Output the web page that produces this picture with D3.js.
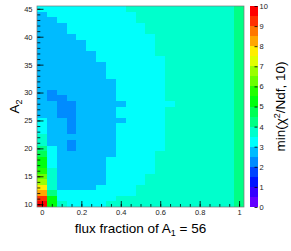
<!DOCTYPE html>
<html>
<head>
<meta charset="utf-8">
<script src="https://cdn.jsdelivr.net/npm/d3@7"></script>
<style>
  body { margin: 0; background: #fff; }
  text { font-family: "Liberation Sans", Arial, Helvetica, sans-serif; }
</style>
</head>
<body>
<script>
// bin centres
var xBins = [0, 0.05, 0.1, 0.15, 0.2, 0.25, 0.3, 0.35, 0.4, 0.45, 0.5,
             0.55, 0.6, 0.65, 0.7, 0.75, 0.8, 0.85, 0.9, 0.95, 1];
var yBins = [45, 44, 43, 42, 41, 40, 39, 38, 37, 36, 35, 34, 33, 32, 31, 30, 29, 28,
             27, 26, 25, 24, 23, 22, 21, 20, 19, 18, 17, 16, 15, 14, 13, 12, 11, 10];

// min(chi2/Ndf, 10), one row per yBins entry, one column per xBins entry
var zValues = [
  [3.2,3.2,3.2,3.2,3.2,3.2,3.2,3.2,3.2,3.7,3.7,3.7,3.7,3.7,3.7,3.7,3.7,3.7,3.7,3.7,4.2],
  [2.8,3.2,3.2,3.2,3.2,3.2,3.2,3.2,3.2,3.2,3.7,3.7,3.7,3.7,3.7,3.7,3.7,3.7,3.7,3.7,4.2],
  [2.8,2.8,3.2,3.2,3.2,3.2,3.2,3.2,3.2,3.2,3.7,3.7,3.7,3.7,3.7,3.7,3.7,3.7,3.7,3.7,4.2],
  [2.8,2.8,2.8,3.2,3.2,3.2,3.2,3.2,3.2,3.2,3.2,3.7,3.7,3.7,3.7,3.7,3.7,3.7,3.7,3.7,4.2],
  [2.8,2.8,2.8,3.2,3.2,3.2,3.2,3.2,3.2,3.2,3.2,3.7,3.7,3.7,3.7,3.7,3.7,3.7,3.7,3.7,4.2],
  [2.8,2.8,2.8,2.8,3.2,3.2,3.2,3.2,3.2,3.2,3.2,3.2,3.7,3.7,3.7,3.7,3.7,3.7,3.7,3.7,4.2],
  [2.8,2.8,2.8,2.8,2.8,3.2,3.2,3.2,3.2,3.2,3.2,3.2,3.7,3.7,3.7,3.7,3.7,3.7,3.7,3.7,4.2],
  [2.8,2.8,2.8,2.8,2.8,3.2,3.2,3.2,3.2,3.2,3.2,3.2,3.7,3.7,3.7,3.7,3.7,3.7,3.7,3.7,4.2],
  [2.8,2.8,2.8,2.8,2.8,2.8,3.2,3.2,3.2,3.2,3.2,3.2,3.7,3.7,3.7,3.7,3.7,3.7,3.7,3.7,4.2],
  [2.8,2.8,2.8,2.8,2.8,2.8,3.2,3.2,3.2,3.2,3.2,3.2,3.2,3.7,3.7,3.7,3.7,3.7,3.7,3.7,4.2],
  [2.8,2.8,2.8,2.8,2.8,2.8,2.8,3.2,3.2,3.2,3.2,3.2,3.2,3.7,3.7,3.7,3.7,3.7,3.7,3.7,4.2],
  [2.8,2.8,2.8,2.8,2.8,2.8,2.8,3.2,3.2,3.2,3.2,3.2,3.2,3.7,3.7,3.7,3.7,3.7,3.7,3.7,4.2],
  [2.8,2.8,2.8,2.8,2.8,2.8,2.8,3.2,3.2,3.2,3.2,3.2,3.2,3.7,3.7,3.7,3.7,3.7,3.7,3.7,4.2],
  [2.8,2.8,2.8,2.8,2.8,2.8,2.8,2.8,3.2,3.2,3.2,3.2,3.2,3.7,3.7,3.7,3.7,3.7,3.7,3.7,4.2],
  [2.8,2.8,2.8,2.8,2.8,2.8,2.8,2.8,3.2,3.2,3.2,3.2,3.2,3.7,3.7,3.7,3.7,3.7,3.7,3.7,4.2],
  [2.8,2.3,2.8,2.8,2.8,2.8,2.8,2.8,3.2,3.2,3.2,3.2,3.2,3.7,3.7,3.7,3.7,3.7,3.7,3.7,4.2],
  [2.8,2.3,2.3,2.8,2.8,2.8,2.8,2.8,3.2,3.2,3.2,3.2,3.2,3.7,3.7,3.7,3.7,3.7,3.7,3.7,4.2],
  [2.8,2.8,2.3,2.3,2.8,2.8,2.8,2.8,2.8,3.2,3.2,3.2,3.2,3.2,3.7,3.7,3.7,3.7,3.7,3.7,4.2],
  [2.8,2.8,2.3,2.3,2.8,2.8,2.8,2.8,3.2,3.2,3.2,3.2,3.2,3.7,3.7,3.7,3.7,3.7,3.7,3.7,4.2],
  [2.8,2.8,2.3,2.3,2.8,2.8,2.8,2.8,3.2,3.2,3.2,3.2,3.2,3.7,3.7,3.7,3.7,3.7,3.7,3.7,4.2],
  [3.2,2.8,2.8,2.3,2.8,2.8,2.8,2.8,2.8,3.2,3.2,3.2,3.2,3.7,3.7,3.7,3.7,3.7,3.7,3.7,4.2],
  [3.2,2.8,2.8,2.3,2.8,2.8,2.8,2.8,3.2,3.2,3.2,3.2,3.2,3.7,3.7,3.7,3.7,3.7,3.7,3.7,4.2],
  [3.2,2.8,2.8,2.3,2.8,2.8,2.8,2.8,3.2,3.2,3.2,3.2,3.2,3.7,3.7,3.7,3.7,3.7,3.7,3.7,4.2],
  [3.7,2.8,2.8,2.8,2.8,2.8,2.8,2.8,3.2,3.2,3.2,3.2,3.2,3.7,3.7,3.7,3.7,3.7,3.7,3.7,4.2],
  [3.9,2.8,2.8,2.3,2.8,2.8,2.8,2.8,3.2,3.2,3.2,3.2,3.2,3.7,3.7,3.7,3.7,3.7,3.7,3.7,4.2],
  [4.3,3.2,2.8,2.3,2.8,2.8,2.8,2.8,3.2,3.2,3.2,3.2,3.2,3.7,3.7,3.7,3.7,3.7,3.7,3.7,4.2],
  [4.6,3.2,2.8,2.8,2.8,2.8,2.8,2.8,3.2,3.2,3.2,3.2,3.7,3.7,3.7,3.7,3.7,3.7,3.7,3.7,4.2],
  [5.0,3.2,2.8,2.8,2.8,2.8,2.8,3.2,3.2,3.2,3.2,3.2,3.7,3.7,3.7,3.7,3.7,3.7,3.7,3.7,4.2],
  [5.3,3.2,2.8,2.8,2.8,2.8,2.8,3.2,3.2,3.2,3.2,3.2,3.7,3.7,3.7,3.7,3.7,3.7,3.7,3.7,4.2],
  [5.6,3.7,2.8,2.8,2.8,2.8,2.8,3.2,3.2,3.2,3.2,3.2,3.7,3.7,3.7,3.7,3.7,3.7,3.7,3.7,4.2],
  [6.2,3.7,2.8,2.8,2.8,2.8,2.8,3.2,3.2,3.2,3.2,3.7,3.7,3.7,3.7,3.7,3.7,3.7,3.7,3.7,4.2],
  [6.8,3.7,2.8,2.8,2.8,2.8,2.8,3.2,3.2,3.2,3.2,3.7,3.7,3.7,3.7,3.7,3.7,3.7,3.7,3.7,4.2],
  [7.6,3.7,2.8,2.8,2.8,2.8,3.2,3.2,3.2,3.2,3.7,3.7,3.7,3.7,3.7,3.7,3.7,3.7,3.7,3.7,4.2],
  [8.4,4.2,3.2,3.2,3.2,3.2,3.2,3.2,3.2,3.2,3.7,3.7,3.7,3.7,3.7,3.7,3.7,3.7,3.7,3.7,4.2],
  [9.2,5.1,3.2,3.2,3.2,3.2,3.2,3.2,3.7,3.7,3.7,3.7,3.7,3.7,3.7,3.7,3.7,3.7,3.7,3.7,4.2],
  [9.9,5.4,3.7,3.2,3.2,3.2,3.2,3.7,3.7,3.7,3.7,3.7,3.7,3.7,3.7,3.7,3.7,3.7,3.7,3.7,4.2]
];

var xTicks = [0, 0.2, 0.4, 0.6, 0.8, 1];
var xTickLabels = ["0", "0.2", "0.4", "0.6", "0.8", "1"];
var yTicks = [10, 15, 20, 25, 30, 35, 40, 45];
var zTicks = [0, 1, 2, 3, 4, 5, 6, 7, 8, 9, 10];

var binW = 0.05, binH = 1,
    zMin = 0, zMax = 10, nLevels = 20;

var width = 291, height = 251;
var frame = {left: 37, right: 244, top: 6, bottom: 207};

var x = d3.scaleLinear().domain([-0.025, 1.025]).range([frame.left, frame.right]);
var y = d3.scaleLinear().domain([9.5, 45.5]).range([frame.bottom, frame.top]);
var zScale = d3.scaleLinear().domain([zMin, zMax]).range([frame.bottom, frame.top]);

// ROOT "pretty palette" (violet -> red), 50 colours mapped onto 20 contours
function levelColor(k) {
  var idx = Math.floor((k + 0.99) * 50 / nLevels);
  if (idx >= 49) return "#ff0000";
  return d3.hsl(280 - (idx + 1) * 5.6, 1, 0.5).formatHex();
}
var color = d3.scaleQuantize()
    .domain([zMin, zMax])
    .range(d3.range(nLevels).map(levelColor));

var svg = d3.select("body").append("svg")
    .attr("width", width)
    .attr("height", height);

var cells = [];
yBins.forEach(function(yv, r) {
  xBins.forEach(function(xv, c) {
    cells.push({x: xv, y: yv, z: zValues[r][c]});
  });
});

svg.append("g").selectAll("rect")
    .data(cells)
  .enter().append("rect")
    .attr("x", function(d) { return x(d.x - binW / 2); })
    .attr("y", function(d) { return y(d.y + binH / 2); })
    .attr("width", function(d) { return x(d.x + binW / 2) - x(d.x - binW / 2); })
    .attr("height", function(d) { return y(d.y - binH / 2) - y(d.y + binH / 2); })
    .attr("shape-rendering", "crispEdges")
    .style("fill", function(d) { return color(d.z); });

// axes, ticks inside the frame like ROOT
var tickFont = 7.5;
var xMinor = svg.append("g")
    .attr("transform", "translate(0," + frame.bottom + ")")
    .call(d3.axisBottom(x).tickValues(xBins).tickSize(-3).tickFormat(""));
var xAxis = svg.append("g")
    .attr("transform", "translate(0," + frame.bottom + ")")
    .call(d3.axisBottom(x).tickValues(xTicks).tickSize(-6).tickPadding(3)
      .tickFormat(function(d, i) { return xTickLabels[i]; }));

var yMinor = svg.append("g")
    .attr("transform", "translate(" + frame.left + ",0)")
    .call(d3.axisLeft(y).tickValues(yBins).tickSize(-3.3).tickFormat(""));
var yAxis = svg.append("g")
    .attr("transform", "translate(" + frame.left + ",0)")
    .call(d3.axisLeft(y).tickValues(yTicks).tickSize(-6.5).tickPadding(4.5));

[xMinor, xAxis, yMinor, yAxis].forEach(function(g) {
  g.select(".domain").remove();
  g.selectAll(".tick line").style("stroke", "#000").style("stroke-width", 0.8);
  g.selectAll("text").style("font-size", tickFont + "px").style("fill", "#222")
    .style("font-family", "'Liberation Sans', Arial, sans-serif");
});

svg.append("rect")
    .attr("x", frame.left).attr("y", frame.top)
    .attr("width", frame.right - frame.left)
    .attr("height", frame.bottom - frame.top)
    .style("fill", "none").style("stroke", "#777").style("stroke-width", 0.7);

// colour bar
var barX = 250, barW = 7.5;
svg.append("g").selectAll("rect")
    .data(d3.range(nLevels))
  .enter().append("rect")
    .attr("x", barX)
    .attr("y", function(k) { return zScale((k + 1) * (zMax - zMin) / nLevels); })
    .attr("width", barW)
    .attr("height", function(k) { return zScale(k * (zMax - zMin) / nLevels) - zScale((k + 1) * (zMax - zMin) / nLevels); })
    .attr("shape-rendering", "crispEdges")
    .style("fill", function(k) { return levelColor(k); });

var zAxis = svg.append("g")
    .attr("transform", "translate(" + (barX + barW) + ",0)")
    .call(d3.axisRight(zScale).tickValues(zTicks).tickSize(-3).tickPadding(2));
zAxis.select(".domain").remove();
zAxis.selectAll(".tick line").style("stroke", "#000").style("stroke-width", 0.8);
zAxis.selectAll("text").style("font-size", tickFont + "px").style("fill", "#222")
  .style("font-family", "'Liberation Sans', Arial, sans-serif");

// titles
var xTitle = svg.append("text")
    .attr("x", (frame.left + frame.right) / 2)
    .attr("y", 233)
    .style("text-anchor", "middle")
    .style("font-size", "13.5px");
xTitle.append("tspan").text("flux fraction of A");
xTitle.append("tspan").attr("dy", 3).style("font-size", "9px").text("1");
xTitle.append("tspan").attr("dy", -3).text(" = 56");

var yTitle = svg.append("text")
    .attr("transform", "translate(18.5," + ((frame.top + frame.bottom) / 2) + ") rotate(-90)")
    .style("text-anchor", "middle")
    .style("font-size", "13.5px");
yTitle.append("tspan").text("A");
yTitle.append("tspan").attr("dy", 3).style("font-size", "9px").text("2");

var zTitle = svg.append("text")
    .attr("transform", "translate(285," + ((frame.top + frame.bottom) / 2) + ") rotate(-90)")
    .style("text-anchor", "middle")
    .style("font-size", "13.5px");
zTitle.append("tspan").text("min(\u03c7");
zTitle.append("tspan").attr("dy", -5).style("font-size", "9px").text("2");
zTitle.append("tspan").attr("dy", 5).text("/Ndf, 10)");
</script>
</body>
</html>
